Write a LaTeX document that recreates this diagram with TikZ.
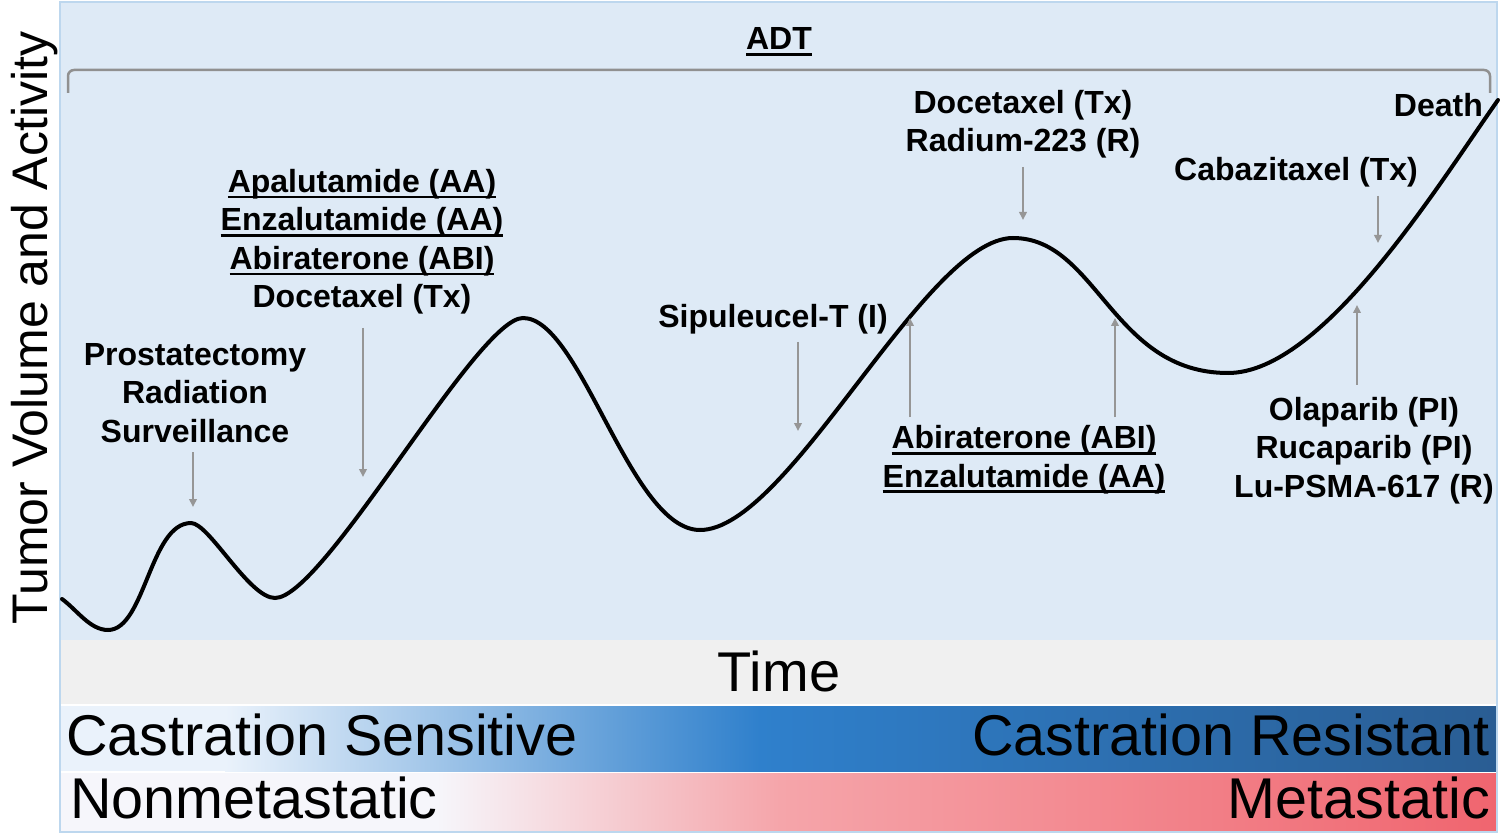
\documentclass[tikz,border=0pt]{standalone}
\usepackage{fontspec}
\setmainfont{Liberation Sans}
\usetikzlibrary{arrows.meta}
\definecolor{panel}{HTML}{DEEAF6}
\definecolor{panelline}{HTML}{BDD7EE}
\definecolor{timeband}{HTML}{F0F0F0}
\definecolor{arrowgray}{HTML}{969696}
\definecolor{bracketgray}{HTML}{909090}
\definecolor{bluewhite}{HTML}{EAF2FB}
\definecolor{bluemid}{HTML}{2F80CC}
\definecolor{bluedark}{HTML}{2A5D93}
\definecolor{pinkwhite}{HTML}{F6F6FB}
\definecolor{pinkmid}{HTML}{F5A5AA}
\definecolor{pinkdark}{HTML}{F0656F}
\newcommand\ulin[1]{\setbox0\hbox{#1}\rlap{\rule[-6pt]{\wd0}{2.6pt}}\box0}
\begin{document}
\begin{tikzpicture}[x=1pt,y=-1pt,
  lbl/.style={font=\fontsize{32}{38.5}\selectfont\bfseries, align=center, inner sep=0pt, anchor=base},
  big/.style={font=\fontsize{57.5}{60}\selectfont, inner sep=0pt},
  garrow/.style={draw=arrowgray, line width=2pt, -{Triangle[length=8pt,width=7.5pt]}},
  curve/.style={draw=black, line width=4pt, line cap=round},
  bracket/.style={draw=bracketgray, line width=2.5pt, rounded corners=6pt}]
\useasboundingbox (0,0) rectangle (1500,834);
\fill[white] (0,0) rectangle (1500,834);
% panels
\fill[panel] (60,2) rectangle (1497,640);
\fill[timeband] (60,640) rectangle (1497,704);
\fill[bluewhite] (60,706) rectangle (225,771);
\shade[left color=bluewhite, right color=bluemid] (225,706) rectangle (760,771);
\shade[left color=bluemid, right color=bluedark] (760,706) rectangle (1497,771);
\fill[pinkwhite] (60,773) rectangle (436,831);
\shade[left color=pinkwhite, right color=pinkmid] (436,773) rectangle (780,831);
\shade[left color=pinkmid, right color=pinkdark] (780,773) rectangle (1497,831);
\draw[panelline, line width=1.5pt] (60,2) rectangle (1497,832);
% ADT bracket
\draw[bracket] (68,93) -- (68,70) -- (1490,70) -- (1490,93);
\node[lbl] (adt) at (779,50) {\ulin{ADT}};
% curve
\draw[curve] (62,599) .. controls (77,610) and (90,630) .. (108,630)
  .. controls (145,630) and (150,523) .. (191,523)
  .. controls (209,523) and (249,598) .. (275,598)
  .. controls (324,598) and (477,318) .. (523,318)
  .. controls (581,318) and (630,530) .. (700,530)
  .. controls (789,530) and (925,238) .. (1013,238)
  .. controls (1097,238) and (1112,373) .. (1228,373)
  .. controls (1323,373) and (1438,185) .. (1498,100);
% labels (multi-line nodes: base = baseline of last line)
\node[lbl] (prost) at (195,442) {Prostatectomy\\Radiation\\Surveillance};
\node[lbl] (apal) at (362,308) {\ulin{Apalutamide (AA)}\\\ulin{Enzalutamide (AA)}\\\ulin{Abiraterone (ABI)}\\Docetaxel (Tx)};
\node[lbl] (sipu) at (773,328) {Sipuleucel-T (I)};
\node[lbl] (abi) at (1024,487) {\ulin{Abiraterone (ABI)}\\\ulin{Enzalutamide (AA)}};
\node[lbl] (doce) at (1023,152) {Docetaxel (Tx)\\Radium-223 (R)};
\node[lbl] (caba) at (1296,181) {Cabazitaxel (Tx)};
\node[lbl] (olap) at (1364,497) {Olaparib (PI)\\Rucaparib (PI)\\Lu-PSMA-617 (R)};
\node[lbl, anchor=base east] (death) at (1483,117) {Death};
% arrow coordinates
\coordinate (p1) at (193,452); \coordinate (p2) at (193,507);
\coordinate (q1) at (363,328); \coordinate (q2) at (363,477);
\coordinate (s1) at (798,342); \coordinate (s2) at (798,431);
\coordinate (u1) at (910,417); \coordinate (u2) at (910,318);
\coordinate (v1) at (1115,417); \coordinate (v2) at (1115,318);
\coordinate (o1) at (1357,385); \coordinate (o2) at (1357,305);
\coordinate (d1) at (1023,167); \coordinate (d2) at (1023,220);
\coordinate (c1) at (1378,196); \coordinate (c2) at (1378,243);
\draw[garrow] (p1) -- (p2);
\draw[garrow] (q1) -- (q2);
\draw[garrow] (s1) -- (s2);
\draw[garrow] (u1) -- (u2);
\draw[garrow] (v1) -- (v2);
\draw[garrow] (o1) -- (o2);
\draw[garrow] (d1) -- (d2);
\draw[garrow] (c1) -- (c2);
% axis texts
\node[font=\fontsize{50}{52}\selectfont, inner sep=0pt, rotate=90, anchor=base] (yaxis) at (47,328) {Tumor Volume and Activity};
\node[font=\fontsize{56}{58}\selectfont, inner sep=0pt, anchor=base] (time) at (779,691) {Time};
\node[big, anchor=base west] (cs) at (66,755) {Castration Sensitive};
\node[big, anchor=base east] (cr) at (1490,755) {Castration Resistant};
\node[big, anchor=base west] (nm) at (70,818) {Nonmetastatic};
\node[big, anchor=base east] (mt) at (1490,818) {Metastatic};
\end{tikzpicture}
\end{document}
